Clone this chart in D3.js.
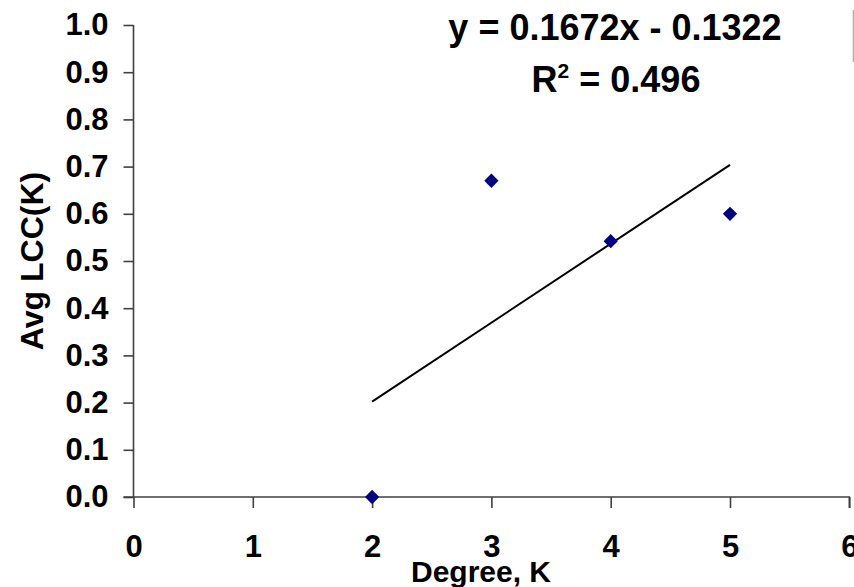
<!DOCTYPE html>
<html>
<head>
<meta charset="utf-8">
<script src="https://cdn.jsdelivr.net/npm/d3@7"></script>
<style>
  html, body { margin: 0; padding: 0; background: #fff; }
  svg { display: block; }
  text { font-family: Arial, "Liberation Sans", sans-serif; font-weight: bold; fill: #000; }
</style>
</head>
<body>
<script>
// ---- data ----
const degrees = [2, 3, 4, 5];
const avgLCC = [0, 0.67, 0.542, 0.6];
const trendSlope = 0.1672;
const trendIntercept = -0.1322;
const trendRange = [2, 5];
const xTicks = [0, 1, 2, 3, 4, 5, 6];
const yTicks = [0, 0.1, 0.2, 0.3, 0.4, 0.5, 0.6, 0.7, 0.8, 0.9, 1.0];
const equationText = "y = 0.1672x - 0.1322";
const r2Value = "0.496";
const xTitle = "Degree, K";
const yTitle = "Avg LCC(K)";

const W = 854, H = 587;
const svg = d3.select("body").append("svg").attr("width", W).attr("height", H);

const x = d3.scaleLinear().domain([0, 6]).range([133.5, 849.3]);
const y = d3.scaleLinear().domain([0, 1]).range([497, 25]);

// legend-box edge fragment at top right
svg.append("line").attr("x1", 853.5).attr("x2", 853.5).attr("y1", 10).attr("y2", 62)
  .attr("stroke", "#b0b0b0").attr("stroke-width", 1.5);

// axes
const yAxis = d3.axisLeft(y).tickValues(yTicks).tickFormat(d3.format(".1f"))
  .tickSize(10).tickPadding(15);
const xAxis = d3.axisBottom(x).tickValues(xTicks).tickFormat(d3.format("d"))
  .tickSize(11).tickPadding(27);

const gy = svg.append("g").attr("transform", `translate(${x(0)},0)`).call(yAxis);
const gx = svg.append("g").attr("transform", `translate(0,${y(0)})`).call(xAxis);
[gx, gy].forEach(g => {
  g.select(".domain").attr("stroke", "#404040").attr("stroke-width", 1.6);
  g.selectAll(".tick line").attr("stroke", "#404040").attr("stroke-width", 1.6);
  g.selectAll(".tick text").attr("font-size", 31).attr("font-family", 'Arial, "Liberation Sans", sans-serif')
    .attr("font-weight", "bold").attr("fill", "#000");
});
gx.select(".domain").attr("d", `M${x(0) - 10},0H${x(6)}V11`);
gy.select(".domain").attr("d", `M0,${y(1)}V${y(0)}`);
gy.selectAll(".tick").filter(d => d === 0).select("line").attr("x2", -10);

// trend line
const trend = trendRange.map(d => [d, trendSlope * d + trendIntercept]);
svg.append("path")
  .attr("d", d3.line().x(d => x(d[0])).y(d => y(d[1]))(trend))
  .attr("stroke", "#000").attr("stroke-width", 2).attr("fill", "none");

// markers
const diamond = d3.symbol().type(d3.symbolDiamond2).size(130);
svg.append("g").selectAll("path").data(degrees.map((d, i) => [d, avgLCC[i]])).join("path")
  .attr("transform", d => `translate(${x(d[0])},${y(d[1])})`)
  .attr("d", diamond)
  .attr("fill", "#000080");

// equation
svg.append("text").attr("x", 615).attr("y", 40).attr("text-anchor", "middle")
  .attr("font-size", 36).text(equationText);
const r2 = svg.append("text").attr("x", 616).attr("y", 92).attr("text-anchor", "middle").attr("font-size", 36);
r2.append("tspan").text("R");
r2.append("tspan").attr("font-size", 21).attr("dy", -14).text("2");
r2.append("tspan").attr("dy", 14).text(" = " + r2Value);

// axis titles
svg.append("text").attr("x", 481).attr("y", 582).attr("text-anchor", "middle")
  .attr("font-size", 30).text(xTitle);
svg.append("text").attr("transform", "translate(43,261) rotate(-90)").attr("text-anchor", "middle")
  .attr("font-size", 32).text(yTitle);
</script>
</body>
</html>
